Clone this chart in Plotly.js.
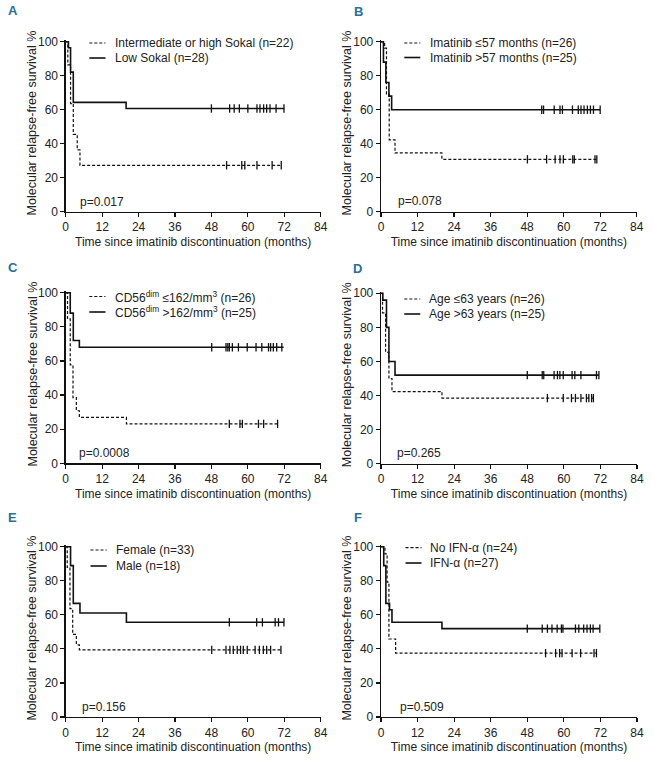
<!DOCTYPE html>
<html><head><meta charset="utf-8">
<script src="https://cdn.plot.ly/plotly-3.0.1.min.js"></script>
<style>html,body{margin:0;padding:0;background:#fff}#chart{width:654px;height:760px}</style>
</head><body><div id="chart"></div>
<script>
// ---------- tick labels / texts ----------
const xTicks = [0, 12, 24, 36, 48, 60, 72, 84];
const yTicks = [0, 20, 40, 60, 80, 100];
const xTitle = 'Time since imatinib discontinuation (months)';
const yTitle = 'Molecular relapse-free survival %';
const panelLetters = ['A', 'B', 'C', 'D', 'E', 'F'];
const pValues = ['p=0.017', 'p=0.078', 'p=0.0008', 'p=0.265', 'p=0.156', 'p=0.509'];
const legendDashed = ['Intermediate or high Sokal (n=22)', 'Imatinib ≤57 months (n=26)',
  'CD56<sup>dim</sup> ≤162/mm<sup>3</sup> (n=26)', 'Age ≤63 years (n=26)', 'Female (n=33)', 'No IFN-α (n=24)'];
const legendSolid = ['Low Sokal (n=28)', 'Imatinib >57 months (n=25)',
  'CD56<sup>dim</sup> >162/mm<sup>3</sup> (n=25)', 'Age >63 years (n=25)', 'Male (n=18)', 'IFN-α (n=27)'];

// ---------- Panel A ----------
const aDashTimes = [0, 0.7, 1.6, 2.5, 3.8, 4.7];
const aDashSurv = [100, 86.4, 63.6, 45.5, 36.4, 27.3];
const aDashCensor = [53, 58, 59, 63, 68, 71];
const aDashEnd = 71;
const aSolidTimes = [0, 0.9, 1.6, 2.5, 19.9];
const aSolidSurv = [100, 96.4, 82.1, 64.3, 60.7];
const aSolidCensor = [48, 54, 55.5, 57.2, 60, 63, 64, 65.2, 66.2, 67.3, 69.3, 71.9];
const aSolidEnd = 72;

// ---------- Panel B ----------
const bDashTimes = [0, 1.2, 1.8, 2.7, 4.6, 20];
const bDashSurv = [100, 96.2, 69.2, 42.3, 34.6, 30.8];
const bDashCensor = [48.1, 54.4, 57.2, 58.8, 59.9, 63, 63.5, 70.3, 70.9];
const bDashEnd = 70.9;
const bSolidTimes = [0, 0.8, 1.6, 2.6, 3.5];
const bSolidSurv = [100, 88, 76, 68, 60];
const bSolidCensor = [52.8, 53.4, 56.9, 58.8, 59.6, 62.9, 64.8, 65.7, 66.7, 67.8, 68.8, 69.8, 72];
const bSolidEnd = 72;

// ---------- Panel C ----------
const cDashTimes = [0, 0.6, 1.5, 2.4, 3.5, 4.5, 20];
const cDashSurv = [100, 84.6, 57.7, 38.5, 30.8, 26.9, 23.1];
const cDashCensor = [53.9, 57.4, 58.2, 63.5, 65.2, 69.8];
const cDashEnd = 69.8;
const cSolidTimes = [0, 1.5, 2.5, 4.5];
const cSolidSurv = [100, 88, 72, 68];
const cSolidCensor = [48.1, 52.8, 53.4, 53.9, 54.9, 56.9, 59.8, 62.7, 64.6, 66.8, 67.5, 68.4, 69.5, 71.2];
const cSolidEnd = 71.8;

// ---------- Panel D ----------
const dDashTimes = [0, 0.5, 1.5, 2.6, 3.6, 20];
const dDashSurv = [100, 88.5, 65.4, 50, 42.3, 38.5];
const dDashCensor = [54.6, 59.8, 62.5, 63.8, 65.6, 67.4, 68.2, 69.1, 69.7];
const dDashEnd = 69.7;
const dSolidTimes = [0, 0.6, 1.8, 2.6, 4.6];
const dSolidSurv = [100, 96, 80, 60, 52];
const dSolidCensor = [48, 52.9, 53.4, 56.8, 57.9, 58.7, 59.8, 62.7, 63.6, 65.6, 70.7, 71.5];
const dSolidEnd = 71.5;

// ---------- Panel E ----------
const eDashTimes = [0, 0.5, 1.4, 2.3, 3.5, 4.5];
const eDashSurv = [100, 87.9, 63.6, 48.5, 42.4, 39.4];
const eDashCensor = [48.1, 52.8, 54.1, 55.2, 56.5, 57.6, 58.5, 59.8, 62.4, 63.8, 65.1, 66.2, 67.5, 70.9];
const eDashEnd = 70.9;
const eSolidTimes = [0, 1.6, 2.5, 4.7, 20];
const eSolidSurv = [100, 88.9, 66.7, 61.1, 55.6];
const eSolidCensor = [53.9, 62.9, 64.8, 69, 70.1, 71.9];
const eSolidEnd = 71.9;

// ---------- Panel F ----------
const fDashTimes = [0, 1.3, 2.0, 2.6, 4.8];
const fDashSurv = [100, 95.8, 79.2, 45.8, 37.5];
const fDashCensor = [54, 57.3, 58.6, 59.4, 62.7, 65.5, 69.9, 70.7];
const fDashEnd = 70.7;
const fSolidTimes = [0, 0.9, 1.6, 2.8, 3.6, 20];
const fSolidSurv = [100, 88.9, 66.7, 63, 55.6, 51.9];
const fSolidCensor = [48, 52.9, 54.6, 56.1, 57.8, 59.2, 59.7, 63.8, 64.9, 66.5, 67.6, 68.7, 69.6, 71.8];
const fSolidEnd = 71.8;

const panels = [
  {dash: [aDashTimes, aDashSurv, aDashCensor, aDashEnd], solid: [aSolidTimes, aSolidSurv, aSolidCensor, aSolidEnd]},
  {dash: [bDashTimes, bDashSurv, bDashCensor, bDashEnd], solid: [bSolidTimes, bSolidSurv, bSolidCensor, bSolidEnd]},
  {dash: [cDashTimes, cDashSurv, cDashCensor, cDashEnd], solid: [cSolidTimes, cSolidSurv, cSolidCensor, cSolidEnd]},
  {dash: [dDashTimes, dDashSurv, dDashCensor, dDashEnd], solid: [dSolidTimes, dSolidSurv, dSolidCensor, dSolidEnd]},
  {dash: [eDashTimes, eDashSurv, eDashCensor, eDashEnd], solid: [eSolidTimes, eSolidSurv, eSolidCensor, eSolidEnd]},
  {dash: [fDashTimes, fDashSurv, fDashCensor, fDashEnd], solid: [fSolidTimes, fSolidSurv, fSolidCensor, fSolidEnd]}
];

// ---------- layout geometry (pixels) ----------
const W = 654, H = 760;
const boxes = [
  {l: 65.7, r: 320.7, t: 41.7, b: 211.7},
  {l: 381, r: 636.7, t: 41.7, b: 211.7},
  {l: 65.7, r: 320.7, t: 292.7, b: 463.3},
  {l: 381, r: 637, t: 293.3, b: 463.7},
  {l: 65.7, r: 320.7, t: 546.7, b: 717},
  {l: 381, r: 637, t: 546.7, b: 717}
];
const legendPos = [
  {ls: 89.3, le: 105.5, tx: 113.5, r1: 43, r2: 58},
  {ls: 404.3, le: 420.3, tx: 428.5, r1: 43, r2: 57.5},
  {ls: 89.3, le: 105.5, tx: 113.5, r1: 296.5, r2: 312},
  {ls: 404.3, le: 420.3, tx: 428, r1: 299, r2: 314},
  {ls: 90.5, le: 106.7, tx: 114.7, r1: 550, r2: 566},
  {ls: 405.5, le: 421.5, tx: 429.3, r1: 547.7, r2: 563}
];
const letterPos = [[12.5, 11], [358, 11.5], [12.5, 267], [357.5, 268], [12, 517.7], [358, 517.3]];
const yTitleX = [31.7, 346.7, 32.5, 346.7, 31.7, 346.7];
const pPos = [[4.1, 5.9], [4.8, 6.3], [3.8, 5.9], [4.6, 6.1], [4.7, 6.0], [5.5, 6.0]];

const FONT = 'Liberation Sans, Arial, Helvetica, sans-serif';
const INK = '#111';
const YMAX = 101;

function stepAt(times, surv, t) {
  let v = surv[0];
  for (let i = 0; i < times.length; i++) if (times[i] <= t) v = surv[i];
  return v;
}

const traces = [];
const layout = {
  width: W, height: H, margin: {l: 0, r: 0, t: 0, b: 0},
  paper_bgcolor: '#fff', plot_bgcolor: '#fff', showlegend: false,
  font: {family: FONT, size: 12, color: '#222'},
  annotations: [], shapes: []
};

panels.forEach((p, i) => {
  const s = i === 0 ? '' : String(i + 1);
  const bx = boxes[i];
  const topPx = bx.t - (bx.b - bx.t) * (YMAX - 100) / 100;
  [['dash', p.dash, '3px,2px', 1.2], ['solid', p.solid, 'solid', 1.6]].forEach(([name, d, dash, w]) => {
    const [times, surv, cens, end] = d;
    traces.push({
      x: times.concat([end]), y: surv.concat([surv[surv.length - 1]]),
      xaxis: 'x' + s, yaxis: 'y' + s, mode: 'lines', type: 'scatter',
      line: {shape: 'hv', dash: dash, width: w, color: INK}, hoverinfo: 'skip'
    });
    traces.push({
      x: cens, y: cens.map(t => stepAt(times, surv, t)),
      xaxis: 'x' + s, yaxis: 'y' + s, mode: 'markers', type: 'scatter', cliponaxis: false,
      marker: {symbol: 'line-ns', size: 6, color: INK, line: {width: 1.3, color: INK}}, hoverinfo: 'skip'
    });
  });
  layout['xaxis' + s] = {
    domain: [bx.l / W, bx.r / W], range: [0, 84], anchor: 'y' + s,
    tickmode: 'array', tickvals: xTicks, ticktext: xTicks.map(String),
    ticks: 'outside', ticklen: 4, tickwidth: 1.2, tickcolor: INK,
    showline: true, linewidth: 1.3, linecolor: INK, showgrid: false, zeroline: false,
    tickfont: {family: FONT, size: 12, color: '#222'},
    title: {text: xTitle, font: {family: FONT, size: 12, color: '#222'}, standoff: 4}
  };
  layout['yaxis' + s] = {
    domain: [1 - bx.b / H, 1 - topPx / H], range: [0, YMAX], anchor: 'x' + s,
    tickmode: 'array', tickvals: yTicks, ticktext: yTicks.map(String),
    ticks: 'outside', ticklen: 4, tickwidth: 1.2, tickcolor: INK,
    showline: true, linewidth: 1.3, linecolor: INK, showgrid: false, zeroline: false,
    tickfont: {family: FONT, size: 12, color: '#222'}
  };
  // y-axis title (rotated annotation for exact placement)
  layout.annotations.push({
    xref: 'paper', yref: 'paper', x: yTitleX[i] / W, y: 1 - ((bx.t + bx.b) / 2 - 4) / H,
    xanchor: 'center', yanchor: 'middle', showarrow: false, textangle: -90,
    text: yTitle, font: {family: FONT, size: 12.5, color: '#222'}
  });
  // panel letter
  layout.annotations.push({
    xref: 'paper', yref: 'paper', x: letterPos[i][0] / W, y: 1 - letterPos[i][1] / H,
    xanchor: 'center', yanchor: 'middle', showarrow: false,
    text: '<b>' + panelLetters[i] + '</b>',
    font: {family: 'Liberation Sans Narrow, Arial Narrow, ' + FONT, size: 13, color: '#2a6f97'}
  });
  // p value
  layout.annotations.push({
    xref: 'x' + s, yref: 'y' + s, x: pPos[i][0], y: pPos[i][1],
    xanchor: 'left', yanchor: 'middle', showarrow: false, text: pValues[i],
    font: {family: FONT, size: 12, color: '#222'}
  });
  // legend
  const lg = legendPos[i];
  [[lg.r1, '3px,2px', 1.2, legendDashed[i]], [lg.r2, 'solid', 1.6, legendSolid[i]]].forEach(([ry, dash, w, txt]) => {
    layout.shapes.push({
      type: 'line', xref: 'paper', yref: 'paper',
      x0: lg.ls / W, x1: lg.le / W, y0: 1 - ry / H, y1: 1 - ry / H,
      line: {color: INK, width: w, dash: dash}
    });
    layout.annotations.push({
      xref: 'paper', yref: 'paper', x: lg.tx / W, y: 1 - ry / H,
      xanchor: 'left', yanchor: 'middle', showarrow: false, text: txt,
      font: {family: FONT, size: 12, color: '#222'}, borderpad: 0
    });
  });
});

Plotly.newPlot('chart', traces, layout, {staticPlot: true, displayModeBar: false});
</script>
</body></html>
